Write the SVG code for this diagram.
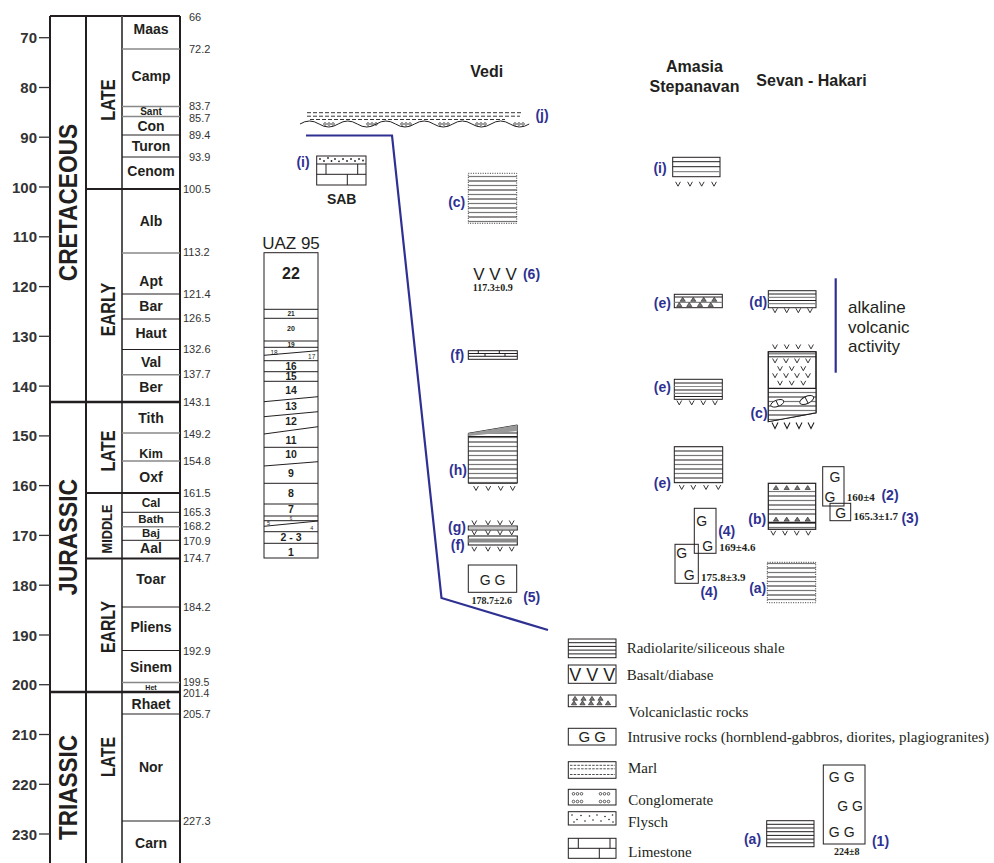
<svg xmlns="http://www.w3.org/2000/svg" xmlns:xlink="http://www.w3.org/1999/xlink" width="994" height="863" viewBox="0 0 994 863">
<style>
.tk{font:bold 15px 'Liberation Sans',Arial,sans-serif;fill:#333;text-anchor:end}
.ag{font:11px 'Liberation Sans',Arial,sans-serif;fill:#333}
.st{font:bold 14px 'Liberation Sans',Arial,sans-serif;fill:#231f20;text-anchor:middle}
.per{font:bold 25px 'Liberation Sans',Arial,sans-serif;fill:#231f20;text-anchor:middle}
.ep{font:bold 20px 'Liberation Sans',Arial,sans-serif;fill:#231f20;text-anchor:middle}
.bl{font:bold 14px 'Liberation Sans',Arial,sans-serif;fill:#2e3192;text-anchor:middle}
.sn{font:bold 11px 'Liberation Serif','Times New Roman',serif;fill:#231f20}
.lg{font:15px 'Liberation Serif','Times New Roman',serif;fill:#231f20}
.g{font:14px 'Liberation Sans',Arial,sans-serif;fill:#231f20;text-anchor:middle}
.ttl{font:bold 16px 'Liberation Sans',Arial,sans-serif;fill:#231f20;text-anchor:middle}
.uz{font:bold 10.5px 'Liberation Sans',Arial,sans-serif;fill:#231f20;text-anchor:middle}
.uzs{font:bold 6.5px 'Liberation Sans',Arial,sans-serif;fill:#231f20;text-anchor:middle}
.box{fill:#fff;stroke:#231f20;stroke-width:1}
.ln{stroke:#231f20;stroke-width:1;fill:none}
.gl{stroke:#8a8a8a;stroke-width:1.2;fill:none}
.thk{stroke:#231f20;stroke-width:2;fill:none}
.sg{stroke:#231f20;stroke-width:1;fill:none}
.sgg{stroke:#888;stroke-width:1.4;fill:none}
.dot{fill:none;stroke:#231f20;stroke-width:0.9;stroke-dasharray:1 1.4}
.blue{stroke:#2e3192;stroke-width:2.2;fill:none}
</style>
<defs>
<path id="v" d="M-2.4,-2.2 L0,2.2 L2.4,-2.2" fill="none" stroke="#231f20" stroke-width="0.9"/>
<path id="vb" d="M-3,-3 L0,3 L3,-3" fill="none" stroke="#231f20" stroke-width="1.1"/>
<path id="tri" d="M-2.6,1.8 L0,-2.2 L2.6,1.8 Z" fill="#777" stroke="#231f20" stroke-width="0.6"/>
<g id="ooo"><circle cx="-4" cy="0" r="1.3" fill="none" stroke="#231f20" stroke-width="0.7"/><circle cx="0" cy="0" r="1.3" fill="none" stroke="#231f20" stroke-width="0.7"/><circle cx="4" cy="0" r="1.3" fill="none" stroke="#231f20" stroke-width="0.7"/></g>
<pattern id="rad" patternUnits="userSpaceOnUse" width="10" height="9">
<rect width="10" height="9" fill="#fff"/>
<line x1="0" y1="1" x2="10" y2="1" stroke="#231f20" stroke-width="1"/>
<line x1="0" y1="5.5" x2="10" y2="5.5" stroke="#777" stroke-width="1.2"/>
</pattern>
</defs>

<g id="timescale">
<line class="thk" x1="50" y1="16" x2="180" y2="16"/>
<line class="thk" x1="50" y1="16" x2="50" y2="870"/>
<line class="thk" x1="86" y1="16" x2="86" y2="870"/>
<line stroke="#555" stroke-width="2" x1="122" y1="16" x2="122" y2="870"/>
<line class="thk" x1="180" y1="16" x2="180" y2="870"/>
<line stroke="#231f20" stroke-width="2.5" x1="50" y1="402" x2="180" y2="402"/>
<line stroke="#231f20" stroke-width="2.5" x1="50" y1="692" x2="180" y2="692"/>
<line class="thk" x1="86" y1="189" x2="180" y2="189"/>
<line class="thk" x1="86" y1="493" x2="180" y2="493"/>
<line class="thk" x1="86" y1="558.5" x2="180" y2="558.5"/>
<g>
<line class="sgg" x1="122" y1="49" x2="180" y2="49"/>
<line class="sgg" x1="122" y1="106.5" x2="180" y2="106.5"/>
<line class="sgg" x1="122" y1="116.5" x2="180" y2="116.5"/>
<line class="sg" x1="122" y1="135" x2="180" y2="135"/>
<line class="sg" x1="122" y1="157" x2="180" y2="157"/>
<line class="sgg" x1="122" y1="253" x2="180" y2="253"/>
<line class="sg" x1="122" y1="294" x2="180" y2="294"/>
<line class="sg" x1="122" y1="319" x2="180" y2="319"/>
<line class="sg" x1="122" y1="349.5" x2="180" y2="349.5"/>
<line class="sgg" x1="122" y1="374.7" x2="180" y2="374.7"/>
<line class="sgg" x1="122" y1="433" x2="180" y2="433"/>
<line class="sgg" x1="122" y1="461" x2="180" y2="461"/>
<line class="sg" x1="122" y1="512.3" x2="180" y2="512.3"/>
<line class="sgg" x1="122" y1="526.7" x2="180" y2="526.7"/>
<line class="sg" x1="122" y1="540.3" x2="180" y2="540.3"/>
<line class="sg" x1="122" y1="607" x2="180" y2="607"/>
<line class="sg" x1="122" y1="650.5" x2="180" y2="650.5"/>
<line class="sgg" x1="122" y1="682.5" x2="180" y2="682.5"/>
<line class="sg" x1="122" y1="714" x2="180" y2="714"/>
<line class="sg" x1="122" y1="821" x2="180" y2="821"/>
</g>
<g stroke="#333" stroke-width="1.3">
<line x1="39" y1="37.7" x2="50" y2="37.7"/><line x1="39" y1="87.5" x2="50" y2="87.5"/><line x1="39" y1="137.2" x2="50" y2="137.2"/><line x1="39" y1="187" x2="50" y2="187"/><line x1="39" y1="236.8" x2="50" y2="236.8"/><line x1="39" y1="286.6" x2="50" y2="286.6"/><line x1="39" y1="336.3" x2="50" y2="336.3"/><line x1="39" y1="386.1" x2="50" y2="386.1"/><line x1="39" y1="435.9" x2="50" y2="435.9"/><line x1="39" y1="485.6" x2="50" y2="485.6"/><line x1="39" y1="535.4" x2="50" y2="535.4"/><line x1="39" y1="585.2" x2="50" y2="585.2"/><line x1="39" y1="635" x2="50" y2="635"/><line x1="39" y1="684.7" x2="50" y2="684.7"/><line x1="39" y1="734.5" x2="50" y2="734.5"/><line x1="39" y1="784.3" x2="50" y2="784.3"/><line x1="39" y1="834" x2="50" y2="834"/>
</g>
<text class="tk" x="37" y="43.2">70</text><text class="tk" x="37" y="93">80</text><text class="tk" x="37" y="142.7">90</text><text class="tk" x="37" y="192.5">100</text><text class="tk" x="37" y="242.3">110</text><text class="tk" x="37" y="292.1">120</text><text class="tk" x="37" y="341.8">130</text><text class="tk" x="37" y="391.6">140</text><text class="tk" x="37" y="441.4">150</text><text class="tk" x="37" y="491.1">160</text><text class="tk" x="37" y="540.9">170</text><text class="tk" x="37" y="590.7">180</text><text class="tk" x="37" y="640.5">190</text><text class="tk" x="37" y="690.2">200</text><text class="tk" x="37" y="740">210</text><text class="tk" x="37" y="789.8">220</text><text class="tk" x="37" y="839.5">230</text>
<text class="ag" x="189" y="21.3">66</text><text class="ag" x="189" y="53">72.2</text><text class="ag" x="189" y="110.2">83.7</text><text class="ag" x="189" y="122">85.7</text><text class="ag" x="189" y="139.3">89.4</text><text class="ag" x="189" y="161.3">93.9</text><text class="ag" x="183" y="193">100.5</text><text class="ag" x="183" y="256.3">113.2</text><text class="ag" x="183" y="298.3">121.4</text><text class="ag" x="183" y="322.3">126.5</text><text class="ag" x="183" y="353.3">132.6</text><text class="ag" x="183" y="378.3">137.7</text><text class="ag" x="183" y="406">143.1</text><text class="ag" x="183" y="437.7">149.2</text><text class="ag" x="183" y="465">154.8</text><text class="ag" x="183" y="497.3">161.5</text><text class="ag" x="183" y="515.5">165.3</text><text class="ag" x="183" y="530.3">168.2</text><text class="ag" x="183" y="544.5">170.9</text><text class="ag" x="183" y="562.3">174.7</text><text class="ag" x="183" y="611.3">184.2</text><text class="ag" x="183" y="655">192.9</text><text class="ag" x="183" y="686" style="font-size:10.5px">199.5</text><text class="ag" x="183" y="697" style="font-size:10.5px">201.4</text><text class="ag" x="183" y="718">205.7</text><text class="ag" x="183" y="825.3">227.3</text>
<text class="st" x="151" y="34">Maas</text><text class="st" x="151" y="81">Camp</text><text class="st" x="151" y="115" style="font-size:10px">Sant</text><text class="st" x="151" y="131">Con</text><text class="st" x="151" y="151">Turon</text><text class="st" x="151" y="176">Cenom</text><text class="st" x="151" y="226">Alb</text><text class="st" x="151" y="286">Apt</text><text class="st" x="151" y="311">Bar</text><text class="st" x="151" y="338">Haut</text><text class="st" x="151" y="367">Val</text><text class="st" x="151" y="392">Ber</text><text class="st" x="151" y="423">Tith</text><text class="st" x="151" y="457.5" style="font-size:12.5px">Kim</text><text class="st" x="151" y="482">Oxf</text><text class="st" x="151" y="506.5" style="font-size:12px">Cal</text><text class="st" x="151" y="523" style="font-size:11.5px">Bath</text><text class="st" x="151" y="537" style="font-size:11.5px">Baj</text><text class="st" x="151" y="553">Aal</text><text class="st" x="151" y="584">Toar</text><text class="st" x="151" y="632">Pliens</text><text class="st" x="151" y="672">Sinem</text><text class="st" x="151" y="689.8" style="font-size:7px">Het</text><text class="st" x="151" y="709">Rhaet</text><text class="st" x="151" y="772">Nor</text><text class="st" x="151" y="848">Carn</text>
<text class="per" transform="translate(77.3,202.5) rotate(-90) scale(0.91,1)">CRETACEOUS</text>
<text class="per" transform="translate(77.3,537) rotate(-90) scale(0.92,1)">JURASSIC</text>
<text class="per" transform="translate(77.3,787.5) rotate(-90) scale(0.9,1)">TRIASSIC</text>
<text class="ep" transform="translate(115,100) rotate(-90) scale(0.82,1)">LATE</text>
<text class="ep" transform="translate(115,309.5) rotate(-90) scale(0.81,1)">EARLY</text>
<text class="ep" transform="translate(115,451) rotate(-90) scale(0.81,1)">LATE</text>
<text class="ep" style="font-size:14px" transform="translate(111.7,529) rotate(-90) scale(0.91,1)">MIDDLE</text>
<text class="ep" transform="translate(115,627) rotate(-90) scale(0.79,1)">EARLY</text>
<text class="ep" transform="translate(115,757) rotate(-90) scale(0.79,1)">LATE</text>
</g>

<g id="uaz95">
<text x="291" y="249" style="font:17px 'Liberation Sans',Arial,sans-serif;fill:#231f20;text-anchor:middle">UAZ 95</text>
<rect class="box" x="264" y="252.7" width="54" height="305.3" stroke-width="1.3"/>
<g class="ln">
<line x1="264" y1="309.3" x2="318" y2="309.3"/><line x1="264" y1="318.3" x2="318" y2="318.3"/><line x1="264" y1="341" x2="318" y2="341"/><line x1="264" y1="347.3" x2="318" y2="347.3"/><line x1="264" y1="355.3" x2="318" y2="350.7"/><line x1="264" y1="360.7" x2="318" y2="360.7"/><line x1="264" y1="371.7" x2="318" y2="371.7"/><line x1="264" y1="381.3" x2="318" y2="381.3"/><line x1="264" y1="401.7" x2="318" y2="396.7"/><line x1="264" y1="416.7" x2="318" y2="411.7"/><line x1="264" y1="434" x2="318" y2="426.7"/><line x1="264" y1="447.3" x2="318" y2="447.3"/><line x1="264" y1="466" x2="318" y2="461.7"/><line x1="264" y1="483.3" x2="318" y2="483.3"/><line x1="264" y1="504" x2="318" y2="504"/><line x1="264" y1="516" x2="318" y2="516"/><line x1="264" y1="520.7" x2="318" y2="520.7"/><line x1="264" y1="526.3" x2="318" y2="521"/><line x1="264" y1="531.7" x2="318" y2="531.7"/><line x1="264" y1="543.3" x2="318" y2="543.3"/>
</g>
<text class="uz" x="291" y="278.5" style="font-size:16px">22</text>
<text class="uzs" x="291" y="315.8">21</text>
<text class="uzs" x="291" y="331" style="font-size:7px">20</text>
<text class="uzs" x="291" y="347">19</text>
<text class="uzs" x="274" y="354.5" style="font-weight:normal">18</text>
<text class="uzs" x="311.7" y="359" style="font-weight:normal">17</text>
<text class="uz" x="291" y="369.5" style="font-size:10px">16</text>
<text class="uz" x="291" y="380" style="font-size:10px">15</text>
<text class="uz" x="291" y="393.5">14</text>
<text class="uz" x="291" y="410">13</text>
<text class="uz" x="291" y="425">12</text>
<text class="uz" x="291" y="443.5">11</text>
<text class="uz" x="291" y="457.7">10</text>
<text class="uz" x="291" y="476.7">9</text>
<text class="uz" x="291" y="496.7">8</text>
<text class="uz" x="291" y="512.7">7</text>
<text class="uzs" x="291" y="520.3" style="font-size:4.5px;font-weight:normal">6</text>
<text class="uzs" x="268.5" y="525" style="font-size:5.5px;font-weight:normal">5</text>
<text class="uzs" x="311.7" y="529.8" style="font-size:5.5px;font-weight:normal">4</text>
<text class="uz" x="291" y="540.7">2 - 3</text>
<text class="uz" x="291" y="555.5">1</text>
</g>

<g id="titles">
<text class="ttl" x="486.7" y="76.7">Vedi</text>
<text class="ttl" x="694.5" y="72.3">Amasia</text>
<text class="ttl" x="694.5" y="91.7">Stepanavan</text>
<text class="ttl" x="811.5" y="86">Sevan - Hakari</text>
</g>

<g id="connectors">
<polyline class="blue" points="306,135.5 392,135.5 441.5,598 548,630"/>
<line class="blue" x1="835.7" y1="278.3" x2="835.7" y2="372.7"/>
</g>

<g id="unconformity-j">
<g stroke="#231f20" stroke-width="0.9" stroke-dasharray="4 2">
<line x1="307" y1="112.7" x2="522" y2="112.7"/>
<line x1="307" y1="116.2" x2="520" y2="116.2"/>
<line x1="310" y1="119.5" x2="505" y2="119.5"/>
</g>
<path class="ln" d="M300,124 q9.55,-6 19.1,0 t19.1,0 t19.1,0 t19.1,0 t19.1,0 t19.1,0 t19.1,0 t19.1,0 t19.1,0 t19.1,0 t19.1,0 t19.1,0"/>
<use xlink:href="#ooo" x="329" y="124"/><use xlink:href="#ooo" x="372" y="124"/><use xlink:href="#ooo" x="406" y="124"/><use xlink:href="#ooo" x="444" y="124"/><use xlink:href="#ooo" x="481" y="124"/><use xlink:href="#ooo" x="519" y="124"/>
<text class="bl" x="542" y="120">(j)</text>
</g>

<g id="sab-i">
<rect class="box" x="316.7" y="156" width="49.3" height="29"/>
<line class="ln" x1="316.7" y1="164" x2="366" y2="164"/>
<line class="ln" x1="316.7" y1="174.3" x2="366" y2="174.3"/>
<line class="ln" x1="326" y1="164" x2="326" y2="174.3"/>
<line class="ln" x1="357.7" y1="164" x2="357.7" y2="174.3"/>
<line class="ln" x1="347.3" y1="174.3" x2="347.3" y2="185"/>
<g fill="#231f20"><circle cx="320" cy="159" r="0.9"/><circle cx="324" cy="161" r="0.9"/><circle cx="328" cy="158" r="0.9"/><circle cx="331.5" cy="161" r="0.9"/><circle cx="335" cy="159" r="0.9"/><circle cx="339" cy="161.3" r="0.9"/><circle cx="343" cy="159" r="0.9"/><circle cx="347" cy="161" r="0.9"/><circle cx="351" cy="159" r="0.9"/><circle cx="355" cy="161" r="0.9"/><circle cx="359" cy="159" r="0.9"/><circle cx="363" cy="160.5" r="0.9"/></g>
<text class="bl" x="303" y="166.7">(i)</text>
<text x="341.7" y="203.5" style="font:bold 14px 'Liberation Sans',Arial,sans-serif;fill:#231f20;text-anchor:middle">SAB</text>
</g>

<g id="vedi-c">
<rect x="468.3" y="173.3" width="48.4" height="50" fill="url(#rad)"/>
<rect class="dot" x="468.3" y="173.3" width="48.4" height="50"/>
<text class="bl" x="456.7" y="206.7">(c)</text>
</g>

<g id="vedi-6">
<text x="495" y="279.5" style="font:17px 'Liberation Sans',Arial,sans-serif;fill:#231f20;text-anchor:middle">V V V</text>
<text class="bl" x="531.5" y="279">(6)</text>
<text class="sn" x="492.7" y="291" text-anchor="middle" style="font-size:10px">117.3±0.9</text>
</g>

<g id="vedi-f1">
<rect class="box" x="468.3" y="350.7" width="49" height="8.6"/>
<line class="ln" x1="468.3" y1="353.5" x2="517.3" y2="353.5"/>
<line class="ln" x1="468.3" y1="356.3" x2="517.3" y2="356.3"/>
<g class="ln"><line x1="478.3" y1="350.7" x2="478.3" y2="353.5"/><line x1="499.3" y1="350.7" x2="499.3" y2="353.5"/><line x1="485" y1="353.5" x2="485" y2="356.3"/><line x1="505" y1="353.5" x2="505" y2="356.3"/></g>
<text class="bl" x="457.3" y="360">(f)</text>
</g>

<g id="vedi-h">
<polygon points="468.3,433.3 517.3,425 517.3,483.3 468.3,483.3" fill="url(#rad)" stroke="#231f20" stroke-width="1"/>
<polygon points="468.3,433.3 517.3,425 517.3,431 468.3,436" fill="#999" stroke="none"/>
<line class="ln" x1="468.3" y1="436.5" x2="517.3" y2="436.5"/>
<use xlink:href="#v" x="476" y="488.3"/><use xlink:href="#v" x="488.3" y="488.3"/><use xlink:href="#v" x="500.7" y="488.3"/><use xlink:href="#v" x="512.7" y="488.3"/>
<text class="bl" x="458" y="475">(h)</text>
</g>

<g id="vedi-g">
<use xlink:href="#v" x="474.3" y="522.7"/><use xlink:href="#v" x="488" y="522.7"/><use xlink:href="#v" x="500" y="522.7"/><use xlink:href="#v" x="511.7" y="522.7"/>
<rect class="box" x="468.3" y="526" width="49" height="4"/>
<line class="gl" x1="468.3" y1="528" x2="517.3" y2="528"/>
<use xlink:href="#v" x="474.3" y="532.7"/><use xlink:href="#v" x="488" y="532.7"/><use xlink:href="#v" x="500" y="532.7"/><use xlink:href="#v" x="511.7" y="532.7"/>
<text class="bl" x="457" y="531.7">(g)</text>
</g>

<g id="vedi-f2">
<rect x="468.3" y="536" width="49" height="9" fill="#fff" stroke="#231f20" stroke-width="1.1"/>
<rect x="468.3" y="538.5" width="49" height="4" fill="#8a8a8a"/>
<use xlink:href="#v" x="474.3" y="549"/><use xlink:href="#v" x="488" y="549"/><use xlink:href="#v" x="500" y="549"/><use xlink:href="#v" x="511.7" y="549"/>
<text class="bl" x="457.8" y="550">(f)</text>
</g>

<g id="vedi-5">
<rect class="box" x="468.3" y="565" width="48.4" height="27.3"/>
<text class="g" x="492.5" y="584.5">G G</text>
<text class="sn" x="491.7" y="603.5" text-anchor="middle" style="font-size:10px">178.7±2.6</text>
<text class="bl" x="531.7" y="601.7">(5)</text>
</g>

<g id="amasia-i">
<rect class="box" x="672.7" y="157.3" width="47.3" height="19.4"/>
<line class="ln" x1="672.7" y1="161.7" x2="720" y2="161.7"/><line class="ln" x1="672.7" y1="166.7" x2="720" y2="166.7"/><line class="gl" x1="672.7" y1="171.7" x2="720" y2="171.7"/>
<use xlink:href="#v" x="678" y="184"/><use xlink:href="#v" x="690" y="184"/><use xlink:href="#v" x="701.7" y="184"/><use xlink:href="#v" x="714" y="184"/>
<text class="bl" x="660" y="173.3">(i)</text>
</g>

<g id="amasia-e1">
<rect class="box" x="674.3" y="294.3" width="48" height="13.4"/>
<line class="ln" x1="674.3" y1="297" x2="722.3" y2="297"/>
<line class="gl" x1="674.3" y1="302.3" x2="722.3" y2="302.3"/>
<use xlink:href="#tri" x="682.7" y="299.5"/><use xlink:href="#tri" x="693.3" y="299.5"/><use xlink:href="#tri" x="703.7" y="299.5"/><use xlink:href="#tri" x="714.3" y="299.5"/>
<use xlink:href="#tri" x="679.3" y="304.7"/><use xlink:href="#tri" x="689.3" y="304.7"/><use xlink:href="#tri" x="700" y="304.7"/><use xlink:href="#tri" x="710.7" y="304.7"/>
<text class="bl" x="662.3" y="308.3">(e)</text>
</g>

<g id="amasia-e2">
<rect class="box" x="674.3" y="379.3" width="48" height="20"/>
<line class="ln" x1="674.3" y1="383" x2="722.3" y2="383"/><line class="gl" x1="674.3" y1="386.5" x2="722.3" y2="386.5"/><line class="ln" x1="674.3" y1="390" x2="722.3" y2="390"/><line class="gl" x1="674.3" y1="393.3" x2="722.3" y2="393.3"/><line class="ln" x1="674.3" y1="396.5" x2="722.3" y2="396.5"/>
<use xlink:href="#v" x="679.3" y="402.7"/><use xlink:href="#v" x="691.7" y="402.7"/><use xlink:href="#v" x="703.3" y="402.7"/><use xlink:href="#v" x="715" y="402.7"/>
<text class="bl" x="662.3" y="392.3">(e)</text>
</g>

<g id="amasia-e3">
<rect x="674.3" y="446.7" width="48.4" height="36" fill="url(#rad)" stroke="#231f20" stroke-width="1"/>
<use xlink:href="#v" x="681.7" y="487.3"/><use xlink:href="#v" x="693.3" y="487.3"/><use xlink:href="#v" x="706" y="487.3"/><use xlink:href="#v" x="718.3" y="487.3"/>
<text class="bl" x="662.3" y="488.3">(e)</text>
</g>

<g id="amasia-4a">
<rect x="694.3" y="508.3" width="21.7" height="45" fill="none" stroke="#231f20" stroke-width="1"/>
<text class="g" x="701.7" y="526">G</text>
<text class="g" x="707.7" y="551">G</text>
<text class="bl" x="726.7" y="535.7">(4)</text>
<text class="sn" x="719.3" y="551">169±4.6</text>
</g>

<g id="amasia-4b">
<rect x="675" y="544.3" width="23.3" height="39" fill="none" stroke="#231f20" stroke-width="1"/>
<text class="g" x="681.7" y="558">G</text>
<text class="g" x="689.3" y="580">G</text>
<text class="sn" x="701" y="581">175.8±3.9</text>
<text class="bl" x="709" y="596.7">(4)</text>
</g>

<g id="sevan-d">
<rect class="box" x="768.3" y="290.7" width="47.7" height="17"/>
<line class="ln" x1="768.3" y1="294" x2="816" y2="294"/><line class="gl" x1="768.3" y1="297.3" x2="816" y2="297.3"/><line class="ln" x1="768.3" y1="300.5" x2="816" y2="300.5"/><line class="gl" x1="768.3" y1="303.7" x2="816" y2="303.7"/>
<use xlink:href="#v" x="775" y="310.5"/><use xlink:href="#v" x="786.7" y="310.5"/><use xlink:href="#v" x="798.3" y="310.5"/><use xlink:href="#v" x="810" y="310.5"/>
<text class="bl" x="758.3" y="307.3">(d)</text>
</g>

<g id="alkaline">
<text x="848" y="312.5" style="font:17px 'Liberation Sans',Arial,sans-serif;fill:#231f20">alkaline</text>
<text x="848" y="332.5" style="font:17px 'Liberation Sans',Arial,sans-serif;fill:#231f20">volcanic</text>
<text x="848" y="352" style="font:17px 'Liberation Sans',Arial,sans-serif;fill:#231f20">activity</text>
</g>

<g id="sevan-c">
<use xlink:href="#v" x="775" y="346.7"/><use xlink:href="#v" x="786.7" y="346.7"/><use xlink:href="#v" x="798.3" y="346.7"/><use xlink:href="#v" x="811" y="346.7"/>
<polygon points="768.3,351.7 816,351.7 816,412.7 768.3,421.7" fill="#fff" stroke="#231f20" stroke-width="1.1"/>
<line stroke="#8a8a8a" stroke-width="1.6" x1="768.3" y1="353.7" x2="816" y2="353.7"/>
<line class="ln" x1="768.3" y1="356.8" x2="816" y2="356.8"/>
<use xlink:href="#v" x="775" y="360.7"/><use xlink:href="#v" x="786" y="360.7"/><use xlink:href="#v" x="797" y="360.7"/><use xlink:href="#v" x="808" y="360.7"/>
<use xlink:href="#v" x="780" y="368.5"/><use xlink:href="#v" x="791.7" y="368.5"/><use xlink:href="#v" x="803.3" y="368.5"/>
<use xlink:href="#v" x="775" y="375.5"/><use xlink:href="#v" x="786" y="375.5"/><use xlink:href="#v" x="797" y="375.5"/><use xlink:href="#v" x="808" y="375.5"/>
<use xlink:href="#v" x="780" y="383"/><use xlink:href="#v" x="791.7" y="383"/><use xlink:href="#v" x="803.3" y="383"/>
<line stroke="#231f20" stroke-width="1.3" x1="768.3" y1="388.3" x2="816" y2="388.3"/>
<polygon points="768.3,389 816,389 816,412.7 768.3,421.7" fill="url(#rad)" stroke="none"/>
<polygon points="768.3,351.7 816,351.7 816,412.7 768.3,421.7" fill="none" stroke="#231f20" stroke-width="1.1"/>
<ellipse cx="777.3" cy="403.3" rx="6.8" ry="3.2" transform="rotate(-20 777.3 403.3)" fill="#fff" stroke="#231f20" stroke-width="0.9"/>
<line class="ln" x1="776" y1="400.5" x2="778.5" y2="406"/>
<ellipse cx="806.7" cy="400" rx="7.5" ry="3.6" transform="rotate(-25 806.7 400)" fill="#fff" stroke="#231f20" stroke-width="0.9"/>
<line class="ln" x1="805" y1="397" x2="808" y2="403"/>
<use xlink:href="#vb" x="775" y="425.5"/><use xlink:href="#vb" x="787" y="425.5"/><use xlink:href="#vb" x="799" y="425.5"/><use xlink:href="#vb" x="811" y="425.5"/>
<text class="bl" x="759" y="418.3">(c)</text>
</g>

<g id="sevan-b">
<rect x="768.3" y="483.3" width="47.4" height="46" fill="url(#rad)" stroke="#231f20" stroke-width="1.2"/>
<rect x="769" y="484.5" width="46" height="6" fill="#fff"/>
<use xlink:href="#tri" x="776" y="487.7"/><use xlink:href="#tri" x="786.7" y="487.7"/><use xlink:href="#tri" x="797.3" y="487.7"/><use xlink:href="#tri" x="807.7" y="487.7"/>
<rect x="769" y="516.5" width="46" height="5.5" fill="#fff"/>
<use xlink:href="#tri" x="776" y="519.3"/><use xlink:href="#tri" x="786.7" y="519.3"/><use xlink:href="#tri" x="797.3" y="519.3"/><use xlink:href="#tri" x="807.7" y="519.3"/>
<line stroke="#231f20" stroke-width="1.4" x1="768.3" y1="522.5" x2="815.7" y2="522.5"/>
<use xlink:href="#v" x="773.3" y="533"/><use xlink:href="#v" x="785" y="533"/><use xlink:href="#v" x="796.7" y="533"/><use xlink:href="#v" x="808.3" y="533"/>
<text class="bl" x="757.2" y="524.3">(b)</text>
</g>

<g id="sevan-2-3">
<rect x="822.7" y="466.7" width="21.3" height="39.3" fill="none" stroke="#231f20" stroke-width="1"/>
<text class="g" x="835" y="481.5">G</text>
<text class="g" x="830" y="501.5">G</text>
<rect x="830" y="503.3" width="20.7" height="17.4" fill="none" stroke="#231f20" stroke-width="1"/>
<text class="g" x="840.7" y="517.5">G</text>
<text class="sn" x="846.7" y="500.5">160±4</text>
<text class="sn" x="853.5" y="520">165.3±1.7</text>
<text class="bl" x="890" y="500">(2)</text>
<text class="bl" x="910" y="523">(3)</text>
</g>

<g id="sevan-a">
<rect x="767.3" y="562.3" width="48.4" height="40.4" fill="url(#rad)"/>
<rect class="dot" x="767.3" y="562.3" width="48.4" height="40.4"/>
<text class="bl" x="757.7" y="593.3">(a)</text>
</g>

<g id="legend">
<rect class="box" x="568.3" y="639" width="47.7" height="18.7"/>
<g class="ln"><line x1="568.3" y1="642.7" x2="616" y2="642.7"/><line x1="568.3" y1="646.4" x2="616" y2="646.4"/><line x1="568.3" y1="650.1" x2="616" y2="650.1"/><line x1="568.3" y1="653.9" x2="616" y2="653.9"/></g>
<text class="lg" x="626.7" y="653">Radiolarite/siliceous shale</text>

<rect class="box" x="568.3" y="665" width="47.7" height="18.3"/>
<text x="592.2" y="680.5" style="font:18px 'Liberation Sans',Arial,sans-serif;fill:#231f20;text-anchor:middle">V V V</text>
<text class="lg" x="626.7" y="680">Basalt/diabase</text>

<rect class="box" x="568.3" y="695" width="47.7" height="11.7"/>
<use xlink:href="#tri" x="575" y="698.5"/><use xlink:href="#tri" x="583.5" y="698.5"/><use xlink:href="#tri" x="592" y="698.5"/><use xlink:href="#tri" x="600.5" y="698.5"/>
<use xlink:href="#tri" x="574" y="703"/><use xlink:href="#tri" x="582.5" y="703"/><use xlink:href="#tri" x="591" y="703"/><use xlink:href="#tri" x="599.5" y="703"/><use xlink:href="#tri" x="608" y="703"/>
<text class="lg" x="628.3" y="716.5">Volcaniclastic rocks</text>

<rect class="box" x="568.3" y="728.3" width="47.7" height="16.7"/>
<text x="592.2" y="742" style="font:15px 'Liberation Sans',Arial,sans-serif;fill:#231f20;text-anchor:middle">G G</text>
<text class="lg" x="627.5" y="741.5">Intrusive rocks (hornblend-gabbros, diorites, plagiogranites)</text>

<rect class="box" x="568.3" y="761.7" width="47.7" height="16.6"/>
<g stroke="#231f20" stroke-width="0.8" stroke-dasharray="2.5 1.2"><line x1="570" y1="765.3" x2="615" y2="765.3"/><line x1="570" y1="768.8" x2="615" y2="768.8"/><line x1="570" y1="774.5" x2="615" y2="774.5"/></g>
<text class="lg" x="628" y="773">Marl</text>

<rect class="box" x="568.3" y="789.3" width="47.7" height="15.7"/>
<use xlink:href="#ooo" x="577.5" y="793.8"/><use xlink:href="#ooo" x="604.5" y="793.8"/><use xlink:href="#ooo" x="577.5" y="801.5"/><use xlink:href="#ooo" x="604.5" y="801.5"/>
<text class="lg" x="628.3" y="804.5">Conglomerate</text>

<rect class="box" x="568.3" y="811.7" width="47.7" height="13.3"/>
<g fill="#231f20"><circle cx="572" cy="815" r="0.8"/><circle cx="577" cy="819.5" r="0.8"/><circle cx="581" cy="815.5" r="0.8"/><circle cx="585" cy="821" r="0.8"/><circle cx="589.5" cy="816" r="0.8"/><circle cx="593" cy="820" r="0.8"/><circle cx="597" cy="815" r="0.8"/><circle cx="601" cy="821" r="0.8"/><circle cx="605" cy="816.5" r="0.8"/><circle cx="609" cy="819.5" r="0.8"/><circle cx="612.5" cy="815" r="0.8"/><circle cx="574" cy="822" r="0.8"/><circle cx="613" cy="822" r="0.8"/></g>
<text class="lg" x="628" y="827">Flysch</text>

<rect class="box" x="568.3" y="838.3" width="47.7" height="20"/>
<line class="ln" x1="568.3" y1="848.3" x2="616" y2="848.3"/>
<line class="ln" x1="578.3" y1="838.3" x2="578.3" y2="848.3"/><line class="ln" x1="610" y1="838.3" x2="610" y2="848.3"/><line class="ln" x1="599.3" y1="848.3" x2="599.3" y2="858.3"/>
<text class="lg" x="628.3" y="856.5">Limestone</text>
</g>

<g id="triassic-a">
<rect class="box" x="766.7" y="820.7" width="47.3" height="26"/>
<g class="ln"><line x1="766.7" y1="824.3" x2="814" y2="824.3"/><line x1="766.7" y1="828" x2="814" y2="828"/><line x1="766.7" y1="831.7" x2="814" y2="831.7"/><line x1="766.7" y1="835.4" x2="814" y2="835.4"/><line x1="766.7" y1="839.1" x2="814" y2="839.1"/><line x1="766.7" y1="842.8" x2="814" y2="842.8"/></g>
<text class="bl" x="752.5" y="844.3">(a)</text>
</g>

<g id="triassic-1">
<rect x="823.3" y="765" width="41.7" height="79" fill="none" stroke="#231f20" stroke-width="1"/>
<text class="g" x="841.7" y="781.5">G G</text>
<text class="g" x="850" y="811">G G</text>
<text class="g" x="841.7" y="837">G G</text>
<text class="sn" x="846.7" y="855" text-anchor="middle" style="font-size:10px">224±8</text>
<text class="bl" x="880.5" y="845.7">(1)</text>
</g>
</svg>
